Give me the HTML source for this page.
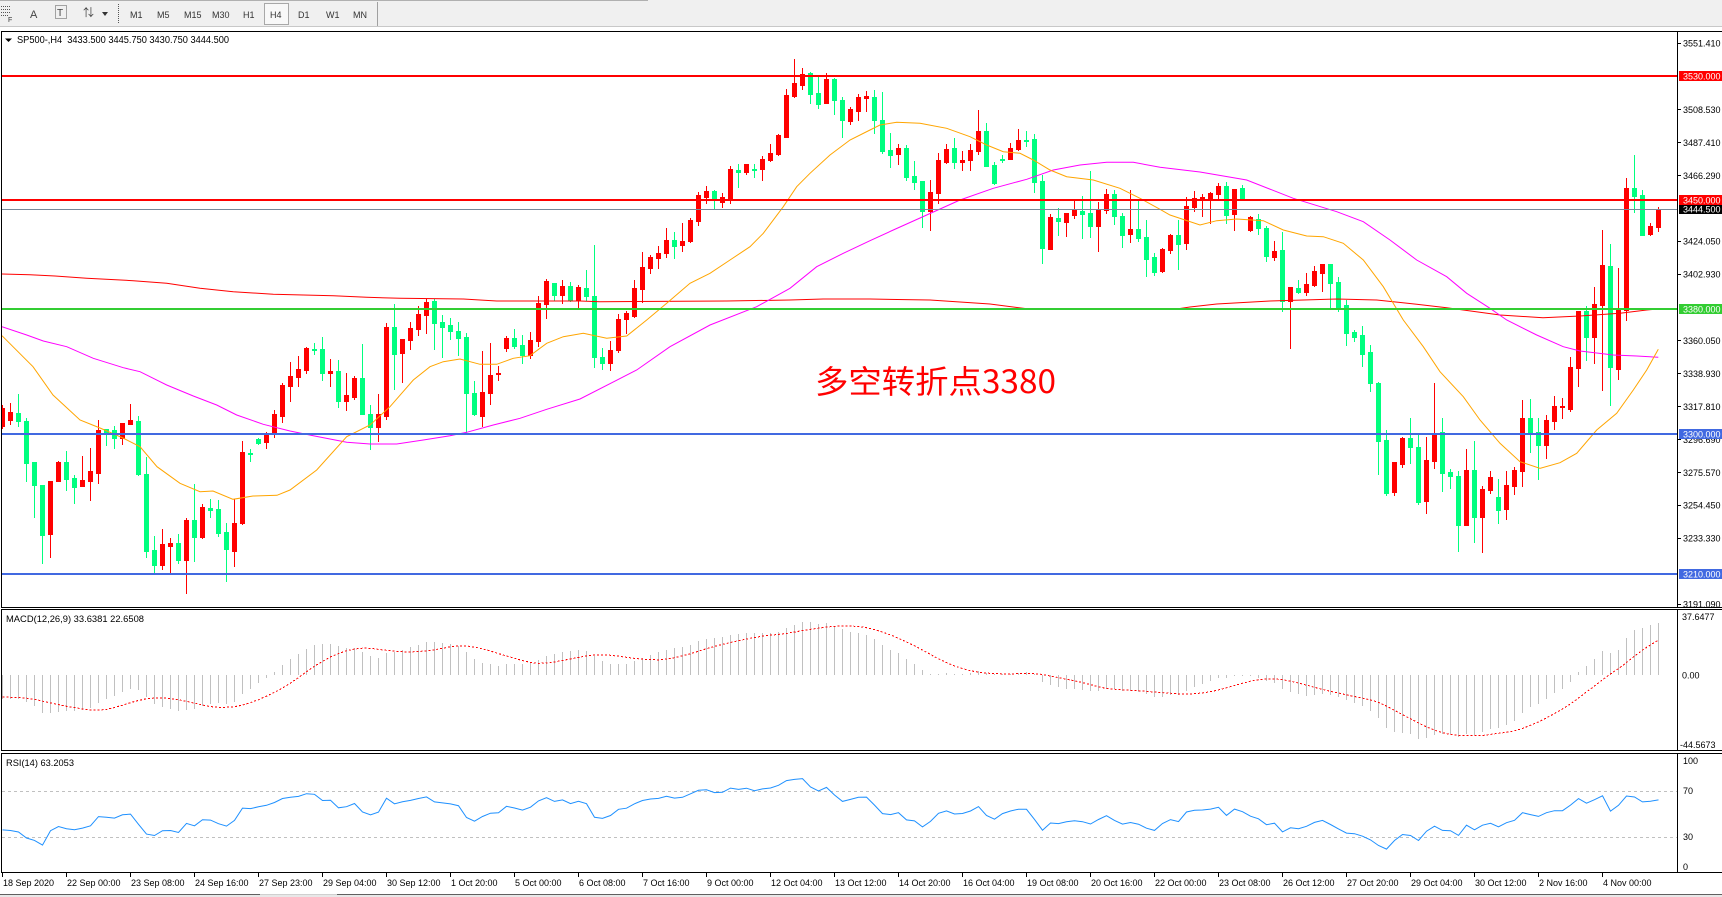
<!DOCTYPE html>
<html><head><meta charset="utf-8">
<style>
html,body{margin:0;padding:0;background:#fff;overflow:hidden;}
svg{display:block;}
text{font-family:"Liberation Sans","Noto Sans CJK SC",sans-serif;}
</style></head><body>
<svg id="s" width="1722" height="897" viewBox="0 0 1722 897" xmlns="http://www.w3.org/2000/svg">
<defs>
<clipPath id="cm"><rect x="2" y="32" width="1675" height="575"/></clipPath>
<clipPath id="cd"><rect x="2" y="610" width="1675" height="140"/></clipPath>
<clipPath id="cr"><rect x="2" y="754" width="1675" height="118"/></clipPath>
</defs>
<rect width="1722" height="897" fill="#fff"/>

<!-- toolbar -->
<rect x="0" y="0" width="1722" height="27" fill="#f0f0f0"/>
<line x1="0" y1="0.5" x2="648" y2="0.5" stroke="#b0b0b0"/>
<line x1="0" y1="26.5" x2="1722" y2="26.5" stroke="#c8c8c8"/>
<g shape-rendering="crispEdges" stroke="#555" stroke-dasharray="1,1">
<line x1="1" y1="6.5" x2="10" y2="6.5"/><line x1="1" y1="9.5" x2="10" y2="9.5"/><line x1="1" y1="12.5" x2="10" y2="12.5"/><line x1="1" y1="15.5" x2="8" y2="15.5"/>
<rect x="55.5" y="5.5" width="11" height="13" fill="none"/>
<line x1="118.5" y1="4" x2="118.5" y2="24"/>
</g>
<text x="8" y="22" font-size="7" fill="#333">F</text>
<text x="30" y="18" font-size="11" fill="#444">A</text>
<text x="57" y="16" font-size="10" fill="#444">T</text>
<text x="83" y="16" font-size="11" fill="#444">⇅</text>
<path d="M102 12 L108 12 L105 16 Z" fill="#333"/>
<rect x="264.5" y="3.5" width="24" height="21" fill="#f8f8f8" stroke="#a8a8a8"/>
<g font-size="9" fill="#333">
<text x="130" y="18">M1</text><text x="157" y="18">M5</text><text x="184" y="18">M15</text><text x="212" y="18">M30</text>
<text x="243" y="18">H1</text><text x="270" y="18">H4</text><text x="298" y="18">D1</text><text x="326" y="18">W1</text><text x="353" y="18">MN</text>
</g>
<line x1="377.5" y1="2" x2="377.5" y2="26" stroke="#a0a0a0"/>

<!-- panels -->
<g shape-rendering="crispEdges" fill="none" stroke="#000">
<rect x="1.5" y="31.5" width="1730" height="576"/>
<rect x="1.5" y="609.5" width="1730" height="141"/>
<rect x="1.5" y="753.5" width="1730" height="119"/>
<line x1="1677.5" y1="31" x2="1677.5" y2="607"/>
<line x1="1677.5" y1="609" x2="1677.5" y2="750"/>
<line x1="1677.5" y1="753" x2="1677.5" y2="873"/>
</g>

<!-- main chart content -->
<g clip-path="url(#cm)">
<g id="candles" shape-rendering="crispEdges"></g>
<g fill="none" stroke-width="1">
<polyline stroke="#ff0000" points="2,274 30,274.7 55,276 86.7,278.3 133.3,280.7 166.7,283.3 200,288.3 233.3,291.7 273.3,294.3 333.3,295.7 366.7,297.3 400,298.3 463.3,299 496.7,301 580,301 600,301.7 726.7,301 790,300 823.3,299 870,299 930,300 990,304 1025,308.5 1180,308.5 1190,307 1216.7,304 1270,301 1336.7,299 1376.7,300 1416.7,304.3 1446.7,307.7 1463.3,310 1500,315 1543,317.7 1580,316 1620,313.3 1646.7,310 1658,309"/>
<polyline stroke="#ff00ff" points="2,326.7 26.7,335 43.3,341 66.7,346.7 93.3,358.3 123.3,367.7 140,371.7 166.7,385 193.3,396 216.7,405 236.7,415 263.3,424.3 290,431 313.3,435.7 346.7,442.3 370,444 396.7,444 423.3,440 450,435.7 466.7,432.3 493.3,425 520,418.3 546.7,409.3 580,399 636.7,370 670,346.7 710,325 756.7,306.7 790,288.3 816.7,266.7 843.3,253.3 870,240.7 893.3,230 926.7,215 960,200 993.3,188.3 1026.7,179.3 1053.3,170 1080,165 1106.7,162.3 1133.3,162.3 1160,167.3 1200,172 1246.7,180 1293.3,198.3 1336.7,211.7 1363.3,221.7 1390,240 1416.7,260 1446.7,276.7 1466.7,293.3 1490,308.3 1506.7,320 1536.7,335 1563.3,346.7 1580,351 1613.3,355 1636.7,356 1658.3,357.3"/>
<polyline stroke="#ffa500" points="2,335.7 33,366.7 53,395 80,420 100,428 123,438 140,446.7 157,466.7 180,483.3 200,491.7 213,491 233,499.3 253,496 277,495.3 290,490 316.7,470 346.7,436.7 370,425 390,406.7 413.3,380 430,366.7 443.3,361.7 460,359 480,364.3 496.7,364.3 513.3,358.3 530,355.7 546.7,343.3 563.3,336.7 583.3,333.3 606.7,338.3 626.7,336 646.7,320 666.7,303.3 690,283.3 710,273.3 730,260 750,246.7 763.3,233.3 783.3,206.7 796.7,186.7 810,173.3 830,155 850,140 870,130 880,125 896.7,122.3 920,123.3 946.7,128.3 970,136.7 986.7,145 1003.3,151.7 1020,153.3 1033.3,160 1050,170 1066.7,176.7 1093.3,180 1120,188.3 1140,198.3 1160,209.3 1170,215 1200,225 1216.7,220.7 1236.7,219 1263.3,220.7 1283.3,230 1306.7,236 1323.3,236.7 1343.3,243.3 1363.3,260 1383.3,286.7 1403.3,320 1423.3,346.7 1440,371.7 1463.3,396.7 1480,420 1500,443.3 1520,461.7 1540,468.3 1560,462.7 1576.7,453.3 1596.7,430 1616.7,413.3 1633.3,390 1646.7,370 1658.3,349.3"/>
</g>
<g shape-rendering="crispEdges">
<rect x="2" y="75" width="1675" height="2" fill="#ff0000"/>
<rect x="2" y="199" width="1675" height="2" fill="#ff0000"/>
<rect x="2" y="209" width="1675" height="1" fill="#778899"/>
<rect x="2" y="308" width="1675" height="2" fill="#32cd32"/>
<rect x="2" y="433" width="1675" height="2" fill="#4169e1"/>
<rect x="2" y="573" width="1675" height="2" fill="#4169e1"/>
</g>
<text x="815" y="393" font-size="32" fill="#ff0000" textLength="241" lengthAdjust="spacingAndGlyphs" style="font-family:'Noto Sans CJK SC','Liberation Sans',sans-serif">多空转折点3380</text>
</g>

<path d="M5 38.5 L12 38.5 L8.5 42 Z" fill="#000"/>
<text x="17" y="43" font-size="10" fill="#000" textLength="212" lengthAdjust="spacingAndGlyphs" xml:space="preserve">SP500-,H4  3433.500 3445.750 3430.750 3444.500</text>

<!-- price axis -->
<g font-size="9" fill="#000">
<text x="1683" y="46.3">3551.410</text>
<text x="1683" y="113.1">3508.530</text>
<text x="1683" y="145.9">3487.410</text>
<text x="1683" y="178.8">3466.290</text>
<text x="1683" y="244.6">3424.050</text>
<text x="1683" y="277.5">3402.930</text>
<text x="1683" y="344.2">3360.050</text>
<text x="1683" y="377.1">3338.930</text>
<text x="1683" y="410">3317.810</text>
<text x="1683" y="442.9">3296.690</text>
<text x="1683" y="475.8">3275.570</text>
<text x="1683" y="508.6">3254.450</text>
<text x="1683" y="541.5">3233.330</text>
<text x="1683" y="607.3">3191.090</text>
</g>
<g shape-rendering="crispEdges" stroke="#000">
<line x1="1678" y1="43.5" x2="1681" y2="43.5"/><line x1="1678" y1="109.5" x2="1681" y2="109.5"/><line x1="1678" y1="142.5" x2="1681" y2="142.5"/><line x1="1678" y1="175.5" x2="1681" y2="175.5"/><line x1="1678" y1="241.5" x2="1681" y2="241.5"/><line x1="1678" y1="274.5" x2="1681" y2="274.5"/><line x1="1678" y1="340.5" x2="1681" y2="340.5"/><line x1="1678" y1="373.5" x2="1681" y2="373.5"/><line x1="1678" y1="406.5" x2="1681" y2="406.5"/><line x1="1678" y1="439.5" x2="1681" y2="439.5"/><line x1="1678" y1="472.5" x2="1681" y2="472.5"/><line x1="1678" y1="505.5" x2="1681" y2="505.5"/><line x1="1678" y1="538.5" x2="1681" y2="538.5"/><line x1="1678" y1="604.5" x2="1681" y2="604.5"/>
</g>
<g shape-rendering="crispEdges">
<rect x="1679" y="71" width="43" height="10" fill="#ff0000"/>
<rect x="1679" y="195" width="43" height="10" fill="#ff0000"/>
<rect x="1679" y="205" width="43" height="9" fill="#000"/>
<rect x="1679" y="304" width="43" height="10" fill="#32cd32"/>
<rect x="1679" y="429" width="43" height="10" fill="#4169e1"/>
<rect x="1679" y="569" width="43" height="10" fill="#4169e1"/>
</g>
<g font-size="9" fill="#fff">
<text x="1683" y="79.3">3530.000</text>
<text x="1683" y="203.3">3450.000</text>
<text x="1683" y="212.6">3444.500</text>
<text x="1683" y="312.3">3380.000</text>
<text x="1683" y="437.3">3300.000</text>
<text x="1683" y="577.3">3210.000</text>
</g>

<!-- MACD -->
<g clip-path="url(#cd)"><g id="macd" shape-rendering="crispEdges"></g></g>
<text x="6" y="622" font-size="9" fill="#000" textLength="138" lengthAdjust="spacingAndGlyphs">MACD(12,26,9) 33.6381 22.6508</text>
<g font-size="9" fill="#000">
<text x="1682" y="620">37.6477</text>
<text x="1682" y="678.5">0.00</text>
<text x="1680" y="748">-44.5673</text>
</g>

<!-- RSI -->
<g shape-rendering="crispEdges" stroke="#c0c0c0" stroke-dasharray="3,3">
<line x1="2" y1="791.5" x2="1677" y2="791.5"/>
<line x1="2" y1="837.5" x2="1677" y2="837.5"/>
</g>
<g clip-path="url(#cr)"><g id="rsi"></g></g>
<text x="6" y="766" font-size="9" fill="#000" textLength="68" lengthAdjust="spacingAndGlyphs">RSI(14) 63.2053</text>
<g font-size="9" fill="#000">
<text x="1683" y="764">100</text>
<text x="1683" y="794">70</text>
<text x="1683" y="840">30</text>
<text x="1683" y="870">0</text>
</g>

<!-- time axis -->
<g shape-rendering="crispEdges" stroke="#000">
<line x1="2.5" y1="873" x2="2.5" y2="877"/><line x1="66.5" y1="873" x2="66.5" y2="877"/><line x1="130.5" y1="873" x2="130.5" y2="877"/><line x1="194.5" y1="873" x2="194.5" y2="877"/><line x1="258.5" y1="873" x2="258.5" y2="877"/><line x1="322.5" y1="873" x2="322.5" y2="877"/><line x1="386.5" y1="873" x2="386.5" y2="877"/><line x1="450.5" y1="873" x2="450.5" y2="877"/><line x1="514.5" y1="873" x2="514.5" y2="877"/><line x1="578.5" y1="873" x2="578.5" y2="877"/><line x1="642.5" y1="873" x2="642.5" y2="877"/><line x1="706.5" y1="873" x2="706.5" y2="877"/><line x1="770.5" y1="873" x2="770.5" y2="877"/><line x1="834.5" y1="873" x2="834.5" y2="877"/><line x1="898.5" y1="873" x2="898.5" y2="877"/><line x1="962.5" y1="873" x2="962.5" y2="877"/><line x1="1026.5" y1="873" x2="1026.5" y2="877"/><line x1="1090.5" y1="873" x2="1090.5" y2="877"/><line x1="1154.5" y1="873" x2="1154.5" y2="877"/><line x1="1218.5" y1="873" x2="1218.5" y2="877"/><line x1="1282.5" y1="873" x2="1282.5" y2="877"/><line x1="1346.5" y1="873" x2="1346.5" y2="877"/><line x1="1410.5" y1="873" x2="1410.5" y2="877"/><line x1="1474.5" y1="873" x2="1474.5" y2="877"/><line x1="1538.5" y1="873" x2="1538.5" y2="877"/><line x1="1602.5" y1="873" x2="1602.5" y2="877"/>
</g>
<g font-size="9" fill="#000">
<text x="3" y="886">18 Sep 2020</text>
<text x="67" y="886">22 Sep 00:00</text>
<text x="131" y="886">23 Sep 08:00</text>
<text x="195" y="886">24 Sep 16:00</text>
<text x="259" y="886">27 Sep 23:00</text>
<text x="323" y="886">29 Sep 04:00</text>
<text x="387" y="886">30 Sep 12:00</text>
<text x="451" y="886">1 Oct 20:00</text>
<text x="515" y="886">5 Oct 00:00</text>
<text x="579" y="886">6 Oct 08:00</text>
<text x="643" y="886">7 Oct 16:00</text>
<text x="707" y="886">9 Oct 00:00</text>
<text x="771" y="886">12 Oct 04:00</text>
<text x="835" y="886">13 Oct 12:00</text>
<text x="899" y="886">14 Oct 20:00</text>
<text x="963" y="886">16 Oct 04:00</text>
<text x="1027" y="886">19 Oct 08:00</text>
<text x="1091" y="886">20 Oct 16:00</text>
<text x="1155" y="886">22 Oct 00:00</text>
<text x="1219" y="886">23 Oct 08:00</text>
<text x="1283" y="886">26 Oct 12:00</text>
<text x="1347" y="886">27 Oct 20:00</text>
<text x="1411" y="886">29 Oct 04:00</text>
<text x="1475" y="886">30 Oct 12:00</text>
<text x="1539" y="886">2 Nov 16:00</text>
<text x="1603" y="886">4 Nov 00:00</text>
</g>
<rect x="0" y="895" width="1722" height="2" fill="#e8e8e8"/>
<line x1="0" y1="894.5" x2="1722" y2="894.5" stroke="#606060" shape-rendering="crispEdges"/>
<line x1="260" y1="894.5" x2="337" y2="894.5" stroke="#d0d0d0" shape-rendering="crispEdges"/>
</svg>
<script>
(function(){
var D=[
[1,408,426,405,428],[1,411.7,419.7,402.7,423.7],[0,413,420.7,394,425.7],[0,421,463.3,418,480.7],[0,462,484.7,462,516.7],[0,485,535,485,562.7],[1,480.7,533.7,480.7,556.7],[1,462,481,461,481],[0,462,478.7,451,490],[0,478,486.7,474.7,502.7],
[1,480,485.7,455.7,485.7],[1,471,480.7,447.7,499.7],[1,430,472.7,420,482.7],[0,429.3,433.3,429.3,445],[0,430.3,437.7,426,447.7],[1,423,437.7,423,444],[1,420,424,404,424],[0,421,473.7,415.7,475],[0,474,551,456.7,557.3],[0,550,564.7,536,572.7],
[1,544,564.7,529,569.3],[1,543,545.7,537.7,573.3],[0,543.3,559.7,534.3,562.7],[1,520,559.7,518.3,593.3],[0,520,536.7,483.7,561.3],[1,507.3,536.7,504,538],[0,508,509.7,499.3,516.7],[0,509,533,500,535.7],[0,532,549.3,523.3,580.7],[1,523.3,550.7,498.7,565.7],
[1,452,523.3,441,524],[0,453,454.3,449.3,460.7],[0,439.3,442.7,438,443.7],[1,433,441.7,432.3,447.7],[1,414,433,410,436.7],[1,385,415.7,383,421.7],[1,376,385.7,362,400.7],[1,369,376.7,356,385.7],[1,348,369.7,346.7,372.7],[0,349,350,343.3,354],
[0,349,372.7,337,380],[1,371.3,372.7,359,385.7],[0,371,400.7,360,407],[1,395,400.7,372.7,410],[1,378,397.3,376,398.7],[0,378,413.7,343.7,413.7],[0,414,427.3,405,448.7],[1,414,426.7,394,440.7],[1,327,415.7,323.3,419],[0,327,353.7,304,389],
[1,339,352.7,339,382],[1,328,339.7,321.7,348.7],[1,314,329,305.7,334.7],[1,302,314.7,298.7,332.7],[0,301,322.7,298.7,348.7],[0,322,326.7,315,356.7],[0,325,330.7,318,338.7],[0,331,337.7,322,354.7],[0,337,392.7,333,433.3],[0,392.7,414,381,415.3],
[1,392,415.7,351,425.7],[1,375,392.7,343,404.3],[1,373,374.3,365.7,380],[1,338,347.7,335.7,350.7],[0,338,345.7,329,348],[0,345,354.7,335.3,362.7],[1,340,354.7,332.3,358],[1,303,341,296.3,346],[1,281,303.7,279,317.7],[0,283,295.3,283,300],
[1,286,295.3,280,302.7],[0,286,300,281.7,300.7],[1,287,300,285.3,308],[0,288,295.7,270,300],[0,296,357.3,245,366.7],[0,357,363.3,348,369.3],[1,350,362.7,341,370],[1,318.7,350,314,352],[1,312.7,318.7,311.3,332.7],[1,288,315.7,280,316.7],
[1,267,288.7,252.3,302.3],[1,257,267.7,254.7,273.3],[1,253,257.7,245.7,268],[1,240,252.7,228,256.7],[0,240,245.7,231.7,257.7],[1,241,244.7,223,250.7],[1,219.7,241,218.3,241.7],[1,194.7,220.7,191.7,224.7],[1,191,196.7,186,202.7],[0,190.7,198.7,189.7,209],
[1,197,201.7,192.7,206.7],[1,169,197.7,166.3,202.7],[0,170,172.3,164,186.7],[1,164,172.3,164,174.3],[0,169,170,163.7,176.7],[1,159,169.3,156.3,179.7],[1,153,160,144,161],[1,135,154,133.7,154.7],[1,95,136.7,89,136.7],[1,83,96,59,97],
[1,74,84.7,68,88.7],[0,73,93.7,72,102.7],[0,93,103.7,77,107.7],[1,79,102.7,73,102.7],[0,79,99.7,78,113.7],[0,100,119.7,97,136.7],[1,109,120.7,107,123.7],[1,97,110.7,93.7,119.7],[1,96,97.5,91,110.7],[0,97,120,90,133.3],
[0,120,151,92,152.7],[0,150,155,133,166.7],[1,148,154,144,163.7],[0,148,177,145,180],[0,176,181.7,161,189],[0,181,210.7,181,226.7],[1,192,210.7,180,229.7],[1,160,192.7,153,202.7],[1,149,162,144,163],[0,148,162,138,167.7],
[1,160,161.7,151,170],[1,150,160,144,170],[1,131,151,110,153.7],[0,131,165.7,123,165.7],[0,165,182.7,162,183.7],[0,158.5,159.5,155,162],[1,148,158.7,143,158.7],[1,140,149,129,150],[0,139.5,140.5,131,146],[0,139,182,134,191.7],
[0,181,247.7,175,262.7],[1,217,248.7,214,248.7],[0,218,220.7,208,234.7],[1,213,221.7,213,235.7],[1,209,214.7,200,217.7],[0,211,213.7,196,237.7],[0,213,225.7,170.7,236.7],[1,209,225.7,202,250.7],[1,194,209.7,189,212.7],[0,194,215.7,190,223.7],
[0,215.7,234.7,213,246.7],[1,229,233.7,190,241.7],[0,229,237.7,201,240.7],[0,237,258.7,220,275.7],[0,257,271.7,253,274.7],[1,249,271,248,271.7],[1,235,250,234,253],[0,235,244,220,268.7],[1,206,243,197,249],[1,198,207,191,210.7],
[1,197,199,194,215.7],[1,193,198,192,222.7],[1,186,194,183,199],[0,186,215,182,222.7],[1,189,214,189,230],[0,188,199,185,199],[1,217,230,216,231],[0,219,228,214,234],[0,228,256,226,261],[1,251,257,241,260],
[0,250,301,232,311],[1,287,301,287,347.7],[0,288,292,280,293],[1,284,292,273,295],[1,271,285,266,286],[1,264,273,264,291],[0,264,283,264,308],[0,282,307,277,311],[0,305,333,300,345],[0,332,337,330,341],
[0,335,354,326,366],[0,352,383,345,391],[0,383,441,382,474],[0,440,492.7,430,495],[1,462,491.7,462,495],[1,438,463.7,437,467],[0,438,446.7,418,463],[0,447,501.7,435,504],[1,460,500.7,437,512.7],[1,434.7,460.7,383,467.7],
[0,432,472.7,418,490.7],[0,472,475.7,469,487.7],[0,476,524.7,471,550.7],[1,470,524.7,449,524.7],[0,470,516.7,441,541.7],[1,489,516.7,486,551.7],[1,477,489.7,471,492.7],[0,497,509.7,479,522.7],[1,485,508.7,471,518.7],[1,470,485.7,467,493.7],
[1,418,470.7,400,485.7],[0,418,432.3,399,451.7],[0,432,444.7,418,478.7],[1,420,444.7,415,457.7],[1,406,420.7,396,428.7],[1,406,407,398,418],[1,367,408.7,357,410.7],[1,310.7,367.7,310.7,385.7],[0,310.7,336.7,306,360],[1,304.3,336.7,286.7,363.3],
[1,265,305,230,390],[0,265.7,366.7,244,405],[1,310,369,268.3,379],[1,188,310,178,320],[0,188,195.7,155,211.7],[0,195,234.7,190,234.7],[1,226,233.7,223,234.7],[1,209,226.7,207,230.7]
];
var NS='http://www.w3.org/2000/svg';
function el(p,t,a){var e=document.createElementNS(NS,t);for(var k in a)e.setAttribute(k,a[k]);p.appendChild(e);return e;}
var gc=document.getElementById('candles');
var closes=[],i,j;
for(i=0;i<D.length;i++){
  var c=D[i],col=c[0]?'#ff0000':'#00ff7f',x=8*i;
  var bt=Math.round(c[1]),bb=Math.round(c[2]),wt=Math.round(c[3]),wb=Math.round(c[4]);
  if(wt>bt)wt=bt; if(wb<bb)wb=bb;
  el(gc,'rect',{x:x+2,y:wt,width:1,height:Math.max(1,wb-wt+1),fill:col});
  el(gc,'rect',{x:x,y:bt,width:5,height:Math.max(1,bb-bt+1),fill:col});
  closes.push(c[0]?c[1]:c[2]);
}
/* MACD */
var fast=393,slow=368,kf=2/13,ks=2/27,pre=[],sp=[];
for(j=0;j<8;j++)pre.push(-21.4);
var gm=document.getElementById('macd');
for(i=0;i<closes.length;i++){
  fast+=(closes[i]-fast)*kf; slow+=(closes[i]-slow)*ks;
  var m=slow-fast; pre.push(m);
  var s=0; for(j=pre.length-9;j<pre.length;j++)s+=pre[j]; s/=9;
  var h=Math.max(1,Math.round(Math.abs(m)));
  el(gm,'rect',{x:8*i+2,y:(m>=0?675-h:675),width:1,height:h,fill:'#c0c0c0'});
  sp.push((8*i+2.5)+','+(675.3-s).toFixed(1));
}
el(gm,'polyline',{points:sp.join(' '),fill:'none',stroke:'#ff0000','stroke-width':1,'stroke-dasharray':'2,2'});
/* RSI */
var ag=6,al=11.3,rp=[];
for(i=0;i<closes.length;i++){
  if(i>0){var ch=closes[i-1]-closes[i];var g=ch>0?ch:0,l=ch<0?-ch:0;ag=(ag*13+g)/14;al=(al*13+l)/14;}
  var r=100*ag/(ag+al);
  rp.push((8*i+2.5)+','+(866.7-r*1.06).toFixed(1));
}
el(document.getElementById('rsi'),'polyline',{points:rp.join(' '),fill:'none',stroke:'#1e90ff','stroke-width':1});
})();
</script>
</body></html>
